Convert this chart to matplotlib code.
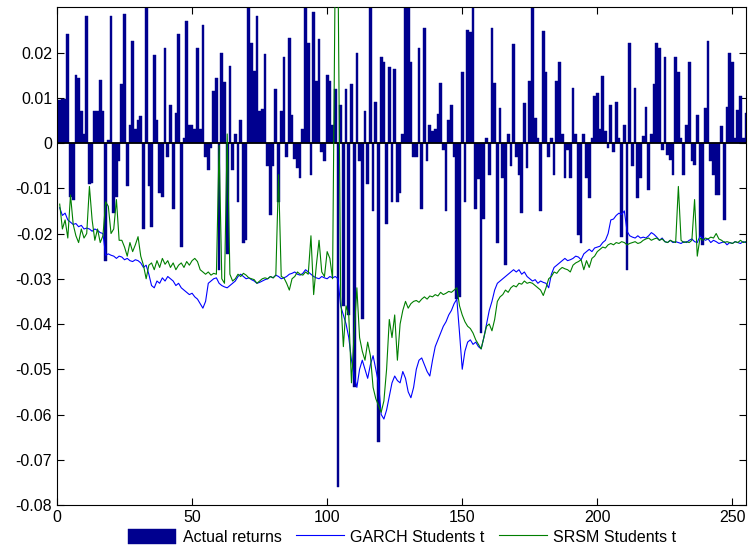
import numpy as np
import matplotlib
matplotlib.use("Agg")
import matplotlib.pyplot as plt

# actual daily returns (bars)
returns = [
    0.0094, 0.0098, 0.0097, 0.024, -0.012, -0.0125, 0.015, 0.0143, 0.007, 0.002,
    0.028, -0.009, -0.0089, 0.007, 0.007, 0.014, 0.007, -0.026, 0.0007, 0.028,
    -0.0155, -0.012, -0.004, 0.013, 0.0285, -0.0096, 0.004, 0.0226, 0.003, 0.005,
    0.006, -0.019, 0.031, -0.0095, -0.0185, 0.0195, 0.005, -0.011, -0.012, 0.021,
    -0.003, 0.0083, -0.0145, 0.0067, 0.024, -0.023, 0.001, 0.027, 0.004, 0.004,
    0.003, 0.021, 0.003, 0.026, -0.003, -0.006, -0.0012, 0.0115, 0.0143, -0.028,
    0.02, 0.0135, -0.0245, 0.017, -0.006, 0.002, -0.013, 0.005, -0.022, -0.0215,
    0.031, 0.022, 0.016, 0.028, 0.007, 0.0075, 0.0196, -0.005, -0.016, -0.005,
    0.012, -0.013, 0.007, 0.019, -0.003, 0.0233, 0.0063, -0.0035, -0.0056, -0.0078,
    0.003, 0.031, 0.022, -0.007, 0.029, 0.0137, 0.023, -0.002, -0.004, 0.015,
    0.0137, 0.004, 0.012, -0.076, 0.0085, -0.036, 0.012, -0.038, 0.013, -0.054,
    0.02, -0.004, -0.039, 0.007, -0.009, 0.031, -0.015, 0.009, -0.066, 0.019,
    0.018, -0.018, 0.0167, -0.013, 0.0163, -0.013, -0.011, 0.002, 0.031, 0.031,
    0.0178, -0.003, -0.003, 0.021, -0.0145, 0.0255, -0.004, 0.004, 0.0026, 0.003,
    0.0065, 0.0133, -0.0015, -0.015, 0.005, 0.0083, -0.003, -0.0344, -0.034, 0.0156,
    -0.013, 0.025, 0.0245, 0.031, -0.0145, -0.008, -0.042, -0.0167, 0.001, -0.007,
    0.0255, 0.0133, -0.022, 0.0078, -0.0078, -0.027, 0.002, -0.005, 0.0219, -0.003,
    -0.007, -0.0155, 0.0089, -0.0056, 0.0137, 0.031, 0.0055, 0.001, -0.015, 0.0247,
    0.0156, -0.003, 0.001, -0.007, 0.0137, 0.0178, 0.002, -0.0078, -0.0015, -0.0078,
    0.0122, 0.0019, -0.0204, -0.022, 0.0019, -0.0078, -0.0122, 0.001, 0.0104, 0.011,
    0.003, 0.0148, 0.0026, -0.001, 0.0083, -0.002, 0.009, 0.001, -0.0207, 0.004,
    -0.0281, 0.022, -0.005, 0.0122, -0.0122, -0.0078, 0.0015, 0.008, -0.0104, 0.002,
    0.013, 0.0222, 0.021, -0.0015, 0.019, -0.0026, -0.0037, -0.007, 0.0189, 0.0156,
    0.001, -0.007, 0.004, 0.0178, -0.004, -0.0048, 0.0063, -0.0207, -0.0225, 0.0078,
    0.0226, -0.004, -0.007, -0.0115, -0.0115, 0.0037, -0.017, 0.008, 0.02, 0.0178,
    0.001, 0.0074, 0.0104, 0.001, 0.0067,
]

# GARCH Student's t forecast
garch = [
    -0.0143, -0.016, -0.0155, -0.017, -0.0175, -0.018, -0.0178, -0.0185, -0.0182, -0.019,
    -0.0188, -0.019, -0.0195, -0.019, -0.0193, -0.0198, -0.02, -0.0248, -0.0245, -0.0248,
    -0.025, -0.0255, -0.025, -0.0252, -0.0258, -0.0255, -0.026, -0.0262, -0.0258, -0.026,
    -0.0265, -0.0275, -0.027, -0.029, -0.0315, -0.032, -0.0305, -0.031, -0.0298, -0.0305,
    -0.0295, -0.03, -0.0305, -0.0315, -0.031, -0.032, -0.0325, -0.033, -0.0335, -0.0332,
    -0.034, -0.0345, -0.0355, -0.0365, -0.035, -0.031, -0.0305, -0.03, -0.0298, -0.031,
    -0.0315, -0.0318, -0.032, -0.0315, -0.031, -0.0305, -0.0295, -0.029, -0.0295, -0.03,
    -0.0298, -0.0302, -0.0305, -0.031, -0.0308, -0.0305, -0.0302, -0.03, -0.0295, -0.0298,
    -0.0292, -0.0295, -0.03, -0.0298, -0.0295, -0.029, -0.0288, -0.0285, -0.029, -0.0292,
    -0.0288, -0.028, -0.0285, -0.029, -0.0295, -0.0298, -0.03, -0.0295, -0.0298, -0.03,
    -0.0295, -0.0298, -0.0295, -0.03, -0.036, -0.038, -0.04, -0.043, -0.048, -0.0515,
    -0.054, -0.05, -0.048, -0.05, -0.052, -0.049, -0.047, -0.05, -0.053, -0.06,
    -0.061, -0.059, -0.056, -0.053, -0.0515, -0.0525, -0.053, -0.0505, -0.052, -0.055,
    -0.0563, -0.054, -0.05, -0.048, -0.0475, -0.049, -0.0505, -0.0515, -0.048, -0.045,
    -0.0435, -0.042, -0.0405, -0.0395, -0.038, -0.037, -0.0355, -0.0345, -0.042, -0.05,
    -0.046, -0.044, -0.0435, -0.0445, -0.044, -0.045, -0.0455, -0.043, -0.04, -0.037,
    -0.035, -0.0325, -0.031, -0.0305, -0.03, -0.0295, -0.029, -0.0285, -0.028, -0.0285,
    -0.028, -0.029, -0.0285, -0.0295, -0.03, -0.0305, -0.0302, -0.031, -0.0305, -0.0308,
    -0.031, -0.032, -0.029, -0.0275, -0.027, -0.0265, -0.026, -0.0255, -0.026, -0.0258,
    -0.0255, -0.025, -0.0252, -0.0258, -0.0245, -0.024, -0.0235, -0.024, -0.0232, -0.023,
    -0.0228, -0.022, -0.0215, -0.02, -0.017, -0.0168, -0.016, -0.0155, -0.0158, -0.015,
    -0.0195, -0.0205, -0.0208, -0.021, -0.0205, -0.021, -0.0208, -0.021, -0.0205, -0.0198,
    -0.0202, -0.0208, -0.0215, -0.021, -0.0218, -0.022, -0.0215, -0.022, -0.0218, -0.022,
    -0.0222, -0.0218, -0.022, -0.0215, -0.0212, -0.0218, -0.022, -0.0205, -0.021, -0.0215,
    -0.0212, -0.022, -0.0215, -0.0218, -0.0222, -0.022, -0.0218, -0.0225, -0.022, -0.0222,
    -0.0218, -0.022, -0.0222, -0.0218, -0.022,
]

# SRSM Student's t forecast
srsm = [
    -0.0135, -0.019, -0.017, -0.021, -0.0115, -0.018, -0.0205, -0.022, -0.019, -0.021,
    -0.02, -0.0096, -0.017, -0.0215, -0.019, -0.022, -0.0205, -0.013, -0.014, -0.02,
    -0.019, -0.0125, -0.0215, -0.0215, -0.023, -0.025, -0.022, -0.024, -0.0225, -0.0207,
    -0.025, -0.027, -0.03, -0.027, -0.0265, -0.028, -0.026, -0.0275, -0.0255, -0.0268,
    -0.026, -0.0275, -0.0265, -0.028, -0.027, -0.0265, -0.0275, -0.0262, -0.027, -0.026,
    -0.0255, -0.0262, -0.028, -0.0285, -0.029, -0.0285, -0.0292, -0.0288, -0.029, -0.0005,
    -0.03, -0.031, 0.002, -0.029, -0.0305, -0.03, -0.029, -0.0295, -0.0288, -0.0292,
    -0.0298, -0.03, -0.0302, -0.031, -0.0305, -0.03, -0.0298, -0.03, -0.0295, -0.0298,
    -0.0292, -0.007, -0.0295, -0.0298, -0.031, -0.0325, -0.03, -0.0295, -0.0285, -0.029,
    -0.0292, -0.0285, -0.029, -0.0205, -0.0335, -0.027, -0.0215, -0.0285, -0.0295, -0.024,
    -0.0255, -0.03, 0.04, 0.04, -0.034, -0.045, -0.036, -0.038, -0.053, -0.042,
    -0.032, -0.043, -0.046, -0.048, -0.044, -0.047, -0.054, -0.0565, -0.058, -0.0595,
    -0.057, -0.05, -0.039, -0.043, -0.038, -0.048, -0.04, -0.037, -0.035, -0.0365,
    -0.0355, -0.035, -0.0348, -0.0352, -0.0345, -0.034, -0.0345, -0.0338, -0.034, -0.0335,
    -0.0338, -0.033, -0.0335, -0.0332, -0.0328, -0.033, -0.0325, -0.032, -0.036, -0.038,
    -0.0395, -0.0405, -0.041, -0.042, -0.0435, -0.0445, -0.0455, -0.043, -0.0405, -0.04,
    -0.0415, -0.039, -0.035, -0.034, -0.0335, -0.0325, -0.033, -0.032, -0.0315, -0.0318,
    -0.031, -0.0312, -0.0305, -0.031, -0.0308, -0.031, -0.0315, -0.032, -0.0325, -0.0337,
    -0.032, -0.03, -0.0295, -0.0285, -0.0288, -0.028, -0.0275, -0.0278, -0.028, -0.0285,
    -0.027, -0.0265, -0.0262, -0.0258, -0.028, -0.026, -0.0275, -0.0255, -0.025, -0.024,
    -0.0235, -0.023, -0.0232, -0.0225, -0.0222, -0.0225, -0.022, -0.0222, -0.0218, -0.022,
    -0.0225, -0.0222, -0.022, -0.0218, -0.0222, -0.022, -0.0215, -0.0212, -0.021, -0.0215,
    -0.0212, -0.021, -0.0215, -0.0212, -0.0218, -0.022, -0.0215, -0.0218, -0.022, -0.0096,
    -0.0215, -0.022, -0.0218, -0.022, -0.0215, -0.0125, -0.025, -0.021, -0.0215, -0.021,
    -0.0212, -0.0208, -0.021, -0.02, -0.0212, -0.0215, -0.022, -0.0218, -0.022, -0.0222,
    -0.0218, -0.022, -0.0215, -0.022, -0.0218,
]

x_ticks = [0, 50, 100, 150, 200, 250]
y_ticks = [-0.08, -0.07, -0.06, -0.05, -0.04, -0.03, -0.02, -0.01, 0, 0.01, 0.02]
y_labels = ["-0.08", "-0.07", "-0.06", "-0.05", "-0.04", "-0.03", "-0.02", "-0.01", "0", "0.01", "0.02"]

plt.rcParams['font.family'] = ['Liberation Sans', 'DejaVu Sans']

x = np.arange(1, len(returns) + 1)

fig = plt.figure(figsize=(7.48, 5.5), dpi=100)
ax = fig.add_axes([0.0762, 0.0818, 0.921, 0.905])

bars = ax.bar(x, returns, width=1.0, color='#00008f', edgecolor='#00008f', linewidth=0.3,
              label='Actual returns', zorder=2)
ax.axhline(0, color='black', linewidth=1.3, zorder=3)
l1, = ax.plot(np.arange(1, len(garch) + 1), garch, color='#0000ff', linewidth=0.8,
              label='GARCH Students t', zorder=4)
l2, = ax.plot(np.arange(1, len(srsm) + 1), srsm, color='#007f00', linewidth=0.8,
              label='SRSM Students t', zorder=5)

ax.set_xlim(0, 255)
ax.set_ylim(-0.08, 0.03)
ax.set_xticks(x_ticks)
ax.set_yticks(y_ticks)
ax.set_yticklabels(y_labels)
ax.tick_params(direction='in', length=5, width=0.8, labelsize=11.5,
               top=True, right=True, colors='black')
for s in ax.spines.values():
    s.set_linewidth(0.8)
    s.set_color('black')

fig.legend(handles=[bars, l1, l2], loc='center', bbox_to_anchor=(0.538, 0.024),
           ncol=3, frameon=False, fontsize=11.5, handlelength=3.0, handleheight=1.1,
           columnspacing=0.9, handletextpad=0.4)

fig.savefig('out.png', dpi=100)
